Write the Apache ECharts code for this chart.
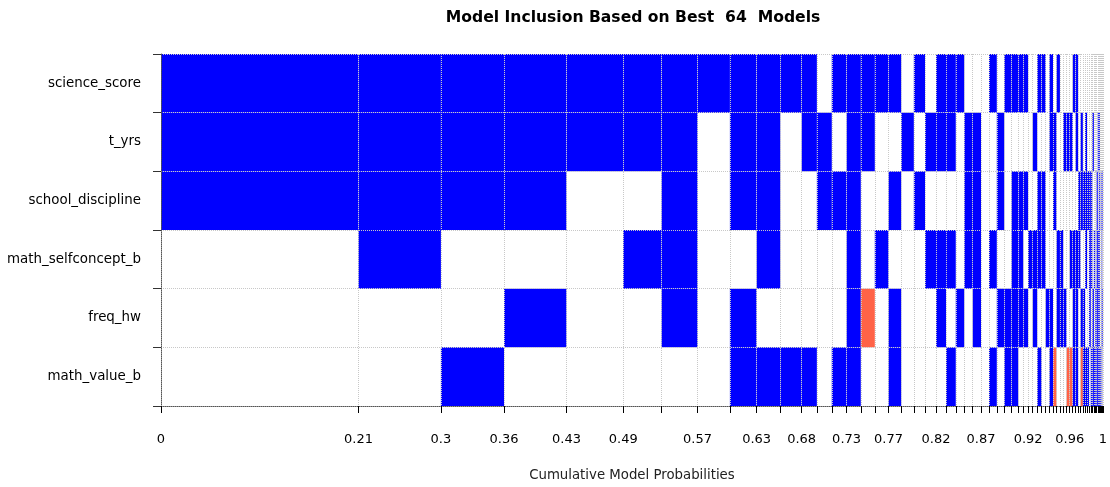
<!DOCTYPE html>
<html><head><meta charset="utf-8">
<script src="https://cdn.jsdelivr.net/npm/echarts@6/dist/echarts.min.js"></script>
<style>html,body{margin:0;padding:0;background:#fff}#c{width:1110px;height:487px}</style>
</head><body><div id="c"></div>
<script>
// Variables (rows, top to bottom)
const variables = ['science_score', 't_yrs', 'school_discipline', 'math_selfconcept_b', 'freq_hw', 'math_value_b'];

// Posterior probability of each of the 64 models (column widths)
const modelProbs = [
  0.20945, 0.08747, 0.06700, 0.06620, 0.06019, 0.04066, 0.03822, 0.03429, 0.02834, 0.02516,
  0.02261, 0.01614, 0.01582, 0.01571, 0.01507, 0.01486, 0.01454, 0.01348, 0.01338, 0.01189,
  0.01168, 0.01062, 0.01030, 0.00902, 0.00892, 0.00881, 0.00849, 0.00828, 0.00796, 0.00764,
  0.00722, 0.00531, 0.00510, 0.00488, 0.00478, 0.00456, 0.00435, 0.00403, 0.00382, 0.00372,
  0.00361, 0.00350, 0.00350, 0.00340, 0.00318, 0.00297, 0.00276, 0.00255, 0.00244, 0.00234,
  0.00212, 0.00202, 0.00191, 0.00170, 0.00159, 0.00149, 0.00138, 0.00127, 0.00117, 0.00106,
  0.00096, 0.00085, 0.00074, 0.00064
];

// Inclusion per variable: 1 = included (positive), -1 = included (negative), 0 = excluded
const scienceScore = [1,1,1,1,1,1,1,1,1,1, 1,1,0,1,1,1,1,1,0,1, 0,1,1,1,0,0,0,1,0,1, 1,1,1,0,0,1,1,0,1,0, 1,0,0,0,0,1,1,0,0,0, 0,0,0,0,0,0,0,0,0,0, 0,0,0,0];
const tYrs = [1,1,1,1,1,1,1,0,1,1, 0,1,1,0,1,1,0,0,1,0, 1,1,1,0,1,1,0,0,1,0, 0,0,0,0,1,0,0,0,1,1, 0,0,1,1,1,0,1,0,1,0, 1,0,0,0,1,0,0,0,1,1, 0,0,0,0];
const schoolDiscipline = [1,1,1,1,0,0,1,0,1,1, 0,0,1,1,1,0,0,1,0,1, 0,0,0,0,1,1,0,0,1,0, 1,1,1,0,0,1,1,0,0,1, 0,0,0,0,0,0,0,1,1,1, 1,1,1,1,0,0,0,1,0,1, 0,1,0,1];
const mathSelfconcept = [0,1,0,0,0,1,1,0,0,1, 0,0,0,0,1,0,1,0,0,0, 1,1,1,0,1,1,0,1,0,0, 1,1,0,1,1,1,1,0,0,0, 1,1,0,0,1,1,1,1,0,0, 1,0,1,1,0,1,0,1,1,1, 0,0,1,0];
const freqHw = [0,0,0,1,0,0,1,0,1,0, 0,0,0,0,1,-1,0,1,0,0, 0,1,0,1,0,1,0,0,1,1, 1,1,1,0,1,0,0,1,1,0, 1,1,1,0,0,1,1,0,1,1, 0,0,1,0,1,0,1,1,1,1, 0,0,1,1];
const mathValue = [0,0,1,0,0,0,0,0,1,1, 1,1,0,1,1,0,0,1,0,0, 0,0,1,0,0,0,0,1,0,1, 1,0,0,0,0,1,0,0,1,-1, 0,0,0,-1,-1,1,1,0,-1,1, 1,1,0,1,1,1,1,1,1,1, 1,0,1,0];

// Models after which a cumulative-probability label is printed
const labelModels = [0, 1, 2, 3, 4, 5, 7, 9, 11, 14, 17, 21, 26, 33, 44, 64];

const titleText = 'Model Inclusion Based on Best  64  Models';
const xAxisName = 'Cumulative Model Probabilities';

const rows = [scienceScore, tYrs, schoolDiscipline, mathSelfconcept, freqHw, mathValue];
const cum = [0];
modelProbs.forEach(p => cum.push(cum[cum.length - 1] + p));
const total = cum[cum.length - 1];
const cells = [];
rows.forEach((row, r) => row.forEach((v, m) => {
  if (v !== 0) cells.push([cum[m], cum[m + 1], r, v]);
}));
const labelValues = labelModels.map(i => cum[i]);

const chart = echarts.init(document.getElementById('c'));
const font = '"DejaVu Sans", sans-serif';
chart.setOption({
  animation: false,
  backgroundColor: '#fff',
  graphic: [{
    type: 'text', x: 633, y: 18,
    style: { text: titleText, textAlign: 'center', textVerticalAlign: 'middle',
      font: 'bold 15.6px ' + font, fill: '#000' }
  }],
  grid: { left: 161, right: 7, top: 54, bottom: 76, containLabel: false },
  xAxis: {
    type: 'value', min: 0, max: total, z: 10,
    name: xAxisName, nameLocation: 'middle', nameGap: 63,
    nameTextStyle: { fontFamily: font, fontSize: 13.3, color: '#222' },
    axisLine: { show: true, lineStyle: { color: '#555', type: 'dotted', width: 1 } },
    axisTick: { show: true, customValues: cum, length: 7, lineStyle: { color: '#000', width: 1 } },
    axisLabel: {
      customValues: labelValues, margin: 27, fontFamily: font, fontSize: 13, color: '#000',
      formatter: v => String(Math.round(v * 100) / 100)
    },
    splitLine: { show: true, lineStyle: { color: '#c8c8c8', type: 'dotted', width: 1 } }
  },
  yAxis: {
    type: 'category', data: variables, inverse: true, z: 10,
    axisLine: { show: true, lineStyle: { color: '#555', type: 'dotted', width: 1 } },
    axisTick: { show: true, length: 8, lineStyle: { color: '#333', width: 1 } },
    axisLabel: { margin: 20, fontFamily: font, fontSize: 13.4, color: '#000' },
    splitLine: { show: true, lineStyle: { color: '#c8c8c8', type: 'dotted', width: 1 } }
  },
  series: [{
    type: 'custom',
    encode: { x: [0, 1], y: 2 },
    data: cells,
    renderItem: function (params, api) {
      const p0 = api.coord([api.value(0), api.value(2)]);
      const p1 = api.coord([api.value(1), api.value(2)]);
      const h = api.size([0, 1])[1];
      return {
        type: 'rect',
        shape: { x: p0[0], y: p0[1] - h / 2, width: p1[0] - p0[0], height: h },
        style: { fill: api.value(3) > 0 ? '#0000ff' : '#ff6347' }
      };
    }
  }]
});
</script>
</body></html>
